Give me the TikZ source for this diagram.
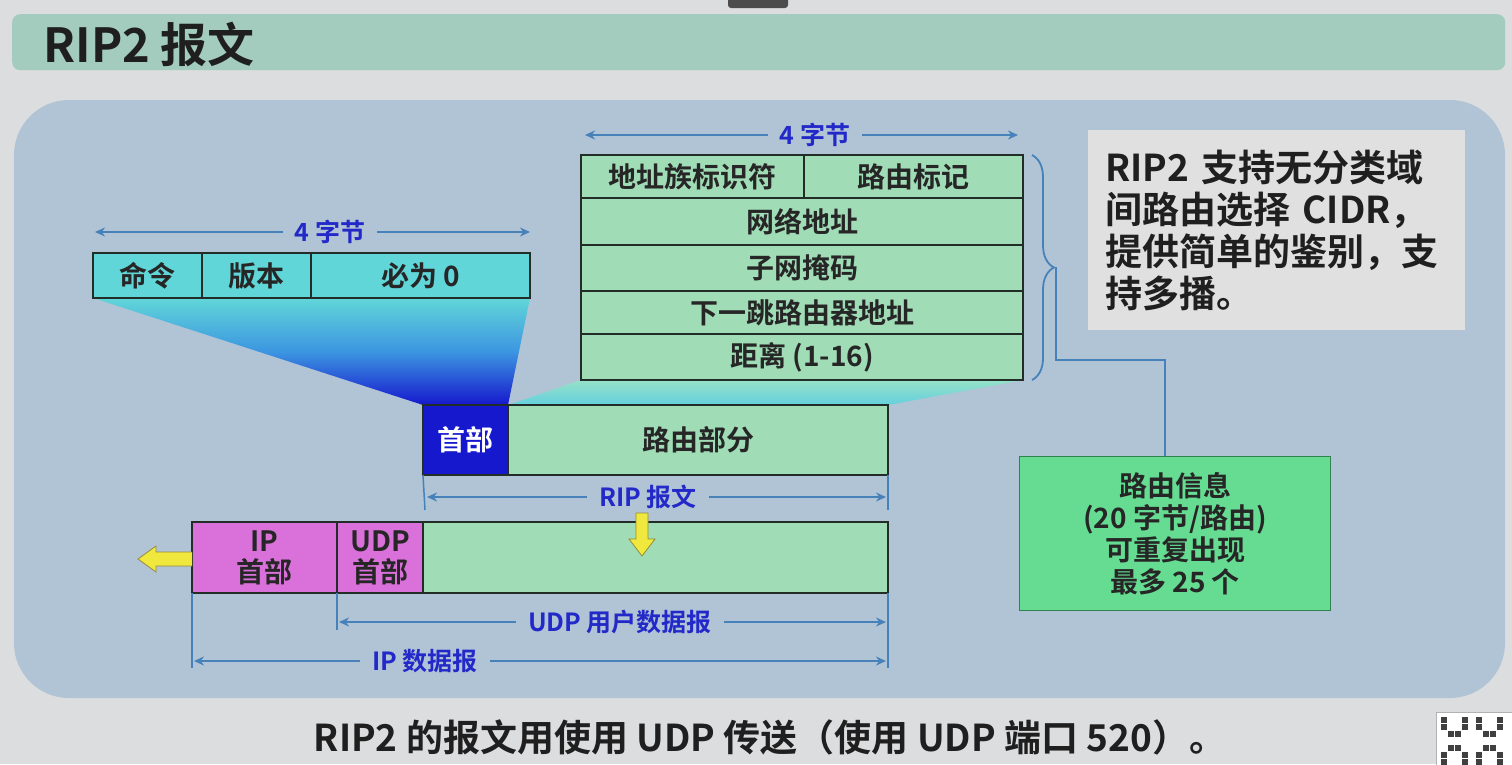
\documentclass[tikz,border=0pt]{standalone}
\usepackage{fontspec}
\setmainfont{Noto Sans CJK SC}[BoldFont={Noto Sans CJK SC Bold}]
\usetikzlibrary{decorations.pathreplacing,arrows.meta,calc}
\definecolor{bgc}{RGB}{220,221,223}
\definecolor{panelc}{RGB}{177,196,213}
\definecolor{titlec}{RGB}{163,204,190}
\definecolor{cyanf}{RGB}{97,214,216}
\definecolor{greenf}{RGB}{160,220,182}
\definecolor{bluef}{RGB}{22,24,205}
\definecolor{magf}{RGB}{218,112,218}
\definecolor{infof}{RGB}{102,220,146}
\definecolor{infod}{RGB}{50,130,80}
\definecolor{celld}{RGB}{35,45,40}
\definecolor{dimc}{RGB}{70,130,185}
\definecolor{labc}{RGB}{35,40,200}
\definecolor{notef}{RGB}{224,224,225}
\definecolor{yel}{RGB}{240,232,60}
\definecolor{yeld}{RGB}{150,140,60}
\newcommand\fsz[2]{\fontsize{#1}{#2}\selectfont\bfseries}
\begin{document}
\begin{tikzpicture}[x=1pt,y=-1pt,
  cell/.style={draw=celld, line width=1.5pt, inner sep=0pt, outer sep=0pt, anchor=north west, font=\fsz{28}{32}, text=black!85},
  dim/.style={draw=dimc, line width=2.2pt, -{Stealth[length=10pt,width=9pt]}},
  tick/.style={draw=dimc, line width=1.5pt},
  lab/.style={text=labc, font=\fsz{25}{29}, inner xsep=12pt, inner ysep=2pt},
  conn/.style={draw=dimc, line width=1.8pt},
  yarrow/.style={fill=yel, draw=yeld, line width=0.8pt, line join=miter}]
\useasboundingbox (0,0) rectangle (1512,764);
\fill[bgc] (0,0) rectangle (1512,764);
% top artifact
\fill[black!70, rounded corners=3pt] (728,-5) rectangle (788,8);
% title bar
\node[fill=titlec, rounded corners=8pt, minimum width=1493, minimum height=56, anchor=north west, inner sep=0pt] (title) at (12,14) {};
\node[anchor=west, font=\fsz{47}{52}, text=black!88] (titletxt) at (40,44) {RIP2 报文};
% panel
\fill[panelc, rounded corners=55pt] (14,100) rectangle (1505,698);
% gradient trapezoids
\shade[top color=cyanf, bottom color=bluef, middle color={rgb,255:red,60;green,150;blue,225}] (93,298) -- (530,298) -- (508,405) -- (423,405) -- cycle;
\shade[top color={rgb,255:red,150;green,225;blue,200}, bottom color={rgb,255:red,100;green,208;blue,222}] (581,380) -- (1023,380) -- (888,405) -- (508,405) -- cycle;
% header
\node[cell, fill=cyanf, minimum width=109, minimum height=45] (cmd) at (93,253) {命令};
\node[cell, fill=cyanf, minimum width=109, minimum height=45] (ver) at (202,253) {版本};
\node[cell, fill=cyanf, minimum width=219, minimum height=45] (zero) at (311,253) {必为 0};
% route entry table
\node[cell, fill=greenf, minimum width=223, minimum height=43] (fam) at (581,155) {地址族标识符};
\node[cell, fill=greenf, minimum width=219, minimum height=43] (tag) at (804,155) {路由标记};
\node[cell, fill=greenf, minimum width=442, minimum height=47] (net) at (581,198) {网络地址};
\node[cell, fill=greenf, minimum width=442, minimum height=46] (mask) at (581,245) {子网掩码};
\node[cell, fill=greenf, minimum width=442, minimum height=43] (nexthop) at (581,291) {下一跳路由器地址};
\node[cell, fill=greenf, minimum width=442, minimum height=46] (dist) at (581,334) {距离 (1-16)};
% RIP message
\node[cell, fill=bluef, text=white, minimum width=85, minimum height=70] (riphd) at (423,405) {首部};
\node[cell, fill=greenf, minimum width=380, minimum height=70] (route) at (508,405) {路由部分};
% packet
\node[cell, fill=magf, minimum width=145, minimum height=71, align=center, font=\fsz{28}{31}] (iphd) at (192,522) {IP\\首部};
\node[cell, fill=magf, minimum width=86, minimum height=71, align=center, font=\fsz{28}{31}] (udphd) at (337,522) {UDP\\首部};
\node[cell, fill=greenf, minimum width=465, minimum height=71] (data) at (423,522) {};
% dimension: header 4 bytes
\node[lab] (l1) at (330,232) {4 字节};
\coordinate (l1a) at (95,232); \coordinate (l1b) at (530,232);
\draw[dim] (l1.west) -- (l1a);
\draw[dim] (l1.east) -- (l1b);
% dimension: table 4 bytes
\node[lab] (l2) at (815,135) {4 字节};
\coordinate (l2a) at (585,135); \coordinate (l2b) at (1018,135);
\draw[dim] (l2.west) -- (l2a);
\draw[dim] (l2.east) -- (l2b);
% RIP message dimension
\coordinate (t1) at (425,510); \coordinate (t2) at (888,510);
\draw[tick] (riphd.south west) -- (t1);
\draw[tick] (route.south east) -- (t2);
\node[lab] (l3) at (648,497) {RIP 报文};
\coordinate (l3a) at (427,497); \coordinate (l3b) at (886,497);
\draw[dim] (l3.west) -- (l3a);
\draw[dim] (l3.east) -- (l3b);
% UDP / IP dimensions
\coordinate (t3) at (337,630); \coordinate (t4) at (192,668); \coordinate (t5) at (888,668);
\draw[tick] (udphd.south west) -- (t3);
\draw[tick] (iphd.south west) -- (t4);
\draw[tick] (data.south east) -- (t5);
\node[lab] (l4) at (620,622) {UDP 用户数据报};
\coordinate (l4a) at (339,622); \coordinate (l4b) at (886,622);
\draw[dim] (l4.west) -- (l4a);
\draw[dim] (l4.east) -- (l4b);
\node[lab] (l5) at (425,661) {IP 数据报};
\coordinate (l5a) at (194,661); \coordinate (l5b) at (886,661);
\draw[dim] (l5.west) -- (l5a);
\draw[dim] (l5.east) -- (l5b);
% yellow arrows
\draw[yarrow] (636,513) -- (648,513) -- (648,539) -- (655,539) -- (642,556) -- (629,539) -- (636,539) -- cycle;
\draw[yarrow] (192,552) -- (156,552) -- (156,546) -- (138,559) -- (156,572) -- (156,566) -- (192,566);
% brace and connector
\draw[conn, decorate, decoration={brace, amplitude=22pt}] (1032,155) -- (1032,380);
\coordinate (bt) at (1056,267);
\node[draw=infod, line width=1.2pt, fill=infof, minimum width=311, minimum height=154, anchor=north west, align=center, font=\fsz{28}{32}, text=black!85] (info) at (1019,456) {路由信息\\(20 字节/路由)\\可重复出现\\最多 25 个};
\coordinate (ib) at (1165,456);
\draw[conn] (bt) -- (1056,360) -| (ib);
% note box
\node[fill=notef, anchor=north west, text width=343, inner xsep=17pt, inner ysep=0pt, minimum height=200, align=left, font=\fsz{37}{42}, text=black!88] (note) at (1088,130) {RIP2 支持无分类域\\间路由选择 CIDR，\\提供简单的鉴别，支\\持多播。};
% bottom text
\node[font=\fsz{37}{42}, text=black!88] (bottom) at (770,737) {RIP2 的报文用使用 UDP 传送（使用 UDP 端口 520）。};
% QR corner
\node[fill=white, draw=black!30, minimum width=76, minimum height=56, anchor=north west, inner sep=0pt] (qr) at (1436,712) {};
\foreach \i in {0,...,9}{\foreach \j in {0,...,6}{
  \pgfmathparse{int(mod(\i*7+\j*11+\i*\j,5))}
  \ifnum\pgfmathresult<2 \fill[black!75] (1441+\i*7,717+\j*7) rectangle ++(6,6);\fi}}
\end{tikzpicture}
\end{document}
